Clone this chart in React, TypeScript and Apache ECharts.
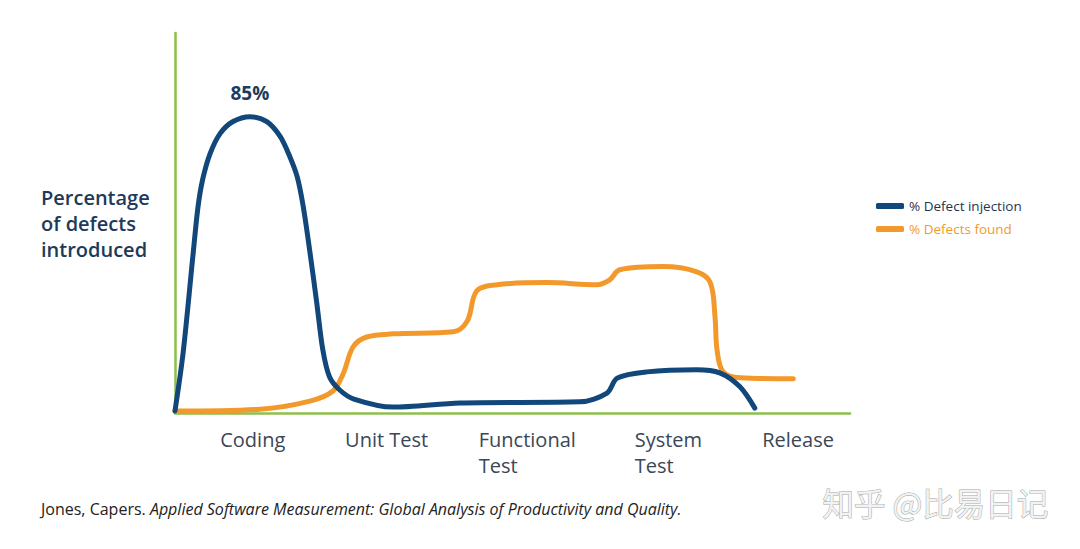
import React, { useEffect, useRef } from "react";
import * as echarts from "echarts";

const phaseLabels = ["Coding", "Unit Test", "Functional\nTest", "System\nTest", "Release"];
const phasePositions = [6.7, 25.2, 45.0, 68.1, 87.0];

const injectionX = [0, 1.2, 2.7, 3.4, 4.1, 5.2, 6.7, 8.6, 11.1, 13.6, 15.6, 17.0, 18.1, 19.0, 20, 21.0, 21.9, 22.9, 24.4, 26.5, 32.3, 42.2, 60, 64, 65.5, 69.9, 77.3, 80.7, 83.7, 85.9];
const injectionY = [0.6, 17.2, 46, 59, 67, 74.4, 80.2, 83.6, 85, 83.6, 79.3, 73.6, 67.8, 59.2, 46, 31.6, 18.1, 10.3, 6.6, 4.0, 1.7, 2.9, 3.2, 5.7, 10, 11.8, 12.4, 11.5, 7.5, 1.4];

const foundX = [0, 12.6, 20, 23.4, 24.9, 26.4, 28.4, 32.3, 41.2, 43.3, 44.7, 47.7, 55.1, 62.5, 64.4, 65.9, 72.3, 77.3, 79.3, 80, 80.3, 81.2, 83.7, 91.6];
const foundY = [0.6, 1.1, 3.4, 6.3, 11.2, 19, 21.8, 22.7, 23.3, 26.4, 35, 36.8, 37.4, 36.8, 38.2, 41.1, 42, 40.5, 37.4, 27.6, 18.1, 11.8, 10.1, 9.8];

const peakLabel = "85%";
const seriesNames = ["% Defect injection", "% Defects found"];

const NAVY = "#11477a";
const ORANGE = "#f3992c";
const GREEN = "#8cc04b";
const FONT = "'Open Sans', Lato, sans-serif";

export default function App() {
  const ref = useRef<HTMLDivElement>(null);
  useEffect(() => {
    document.body.style.margin = "0";
    const chart = echarts.init(ref.current!, null, { renderer: "svg" });
    const peakIdx = injectionY.indexOf(Math.max(...injectionY));
    const injData = injectionX.map((x, i) => [x, injectionY[i]]);
    const foundData = foundX.map((x, i) => [x, foundY[i]]);
    chart.setOption({
      animation: false,
      backgroundColor: "#ffffff",
      grid: { left: 175, right: 230, top: 33, bottom: 136 },
      xAxis: {
        type: "value",
        min: 0,
        max: 100,
        axisLine: { show: true, lineStyle: { color: GREEN, width: 2.5 } },
        axisTick: { show: false },
        splitLine: { show: false },
        axisLabel: {
          customValues: phasePositions,
          formatter: (v: number) => {
            let best = 0;
            phasePositions.forEach((p, i) => {
              if (Math.abs(p - v) < Math.abs(phasePositions[best] - v)) best = i;
            });
            return phaseLabels[best];
          },
          align: "left",
          verticalAlign: "top",
          margin: 13,
          fontSize: 20,
          lineHeight: 26,
          color: "#3a4756",
          fontFamily: FONT,
        },
      },
      yAxis: {
        type: "value",
        min: 0,
        max: 109,
        axisLine: { show: true, lineStyle: { color: GREEN, width: 2.5 } },
        axisTick: { show: false },
        splitLine: { show: false },
        axisLabel: { show: false },
      },
      legend: {
        orient: "vertical",
        left: 871,
        top: 194,
        itemGap: 9,
        itemWidth: 28,
        itemHeight: 6,
        icon: "roundRect",
        textStyle: { fontSize: 13.5, fontFamily: FONT },
        data: [
          { name: seriesNames[0], textStyle: { color: "#1e3550" } },
          { name: seriesNames[1], textStyle: { color: ORANGE } },
        ],
      },
      series: [
        {
          name: seriesNames[1],
          type: "line",
          data: foundData,
          smooth: 0.35,
          showSymbol: false,
          symbol: "none",
          color: ORANGE,
          lineStyle: { color: ORANGE, width: 5, cap: "round", join: "round" },
        },
        {
          name: seriesNames[0],
          type: "line",
          data: injData,
          smooth: 0.3,
          showSymbol: false,
          symbol: "none",
          color: NAVY,
          lineStyle: { color: NAVY, width: 5, cap: "round", join: "round" },
          markPoint: {
            symbol: "circle",
            symbolSize: 1,
            itemStyle: { color: "rgba(0,0,0,0)" },
            label: {
              show: true,
              position: "top",
              distance: 14,
              formatter: peakLabel,
              fontSize: 19,
              fontWeight: "bold",
              color: "#1d3b5e",
              fontFamily: FONT,
            },
            data: [{ coord: [injectionX[peakIdx], injectionY[peakIdx]] }],
          },
        },
      ],
      graphic: [
        {
          type: "text",
          left: 41,
          top: 184,
          style: {
            text: "Percentage\nof defects\nintroduced",
            fontSize: 20,
            fontWeight: 600,
            lineHeight: 26,
            fill: "#1e3a5a",
            fontFamily: FONT,
          },
        },
        {
          type: "text",
          left: 41,
          top: 501,
          style: {
            text: "{n|Jones, Capers. }{i|Applied Software Measurement: Global Analysis of Productivity and Quality.}",
            rich: {
              n: { fontSize: 16, fill: "#222", fontFamily: FONT },
              i: { fontSize: 16, fill: "#222", fontStyle: "italic", fontFamily: FONT },
            },
          },
        },
        {
          type: "text",
          left: 822,
          top: 486,
          style: {
            text: "知乎 @比易日记",
            fontSize: 31.5,
            fill: "#f2f2f2",
            stroke: "#a8a8a8",
            lineWidth: 1,
            fontFamily: "'Noto Sans CJK SC', sans-serif",
          },
        },
      ],
    });
    return () => chart.dispose();
  }, []);
  return <div ref={ref} style={{ width: 1080, height: 549 }} />;
}
